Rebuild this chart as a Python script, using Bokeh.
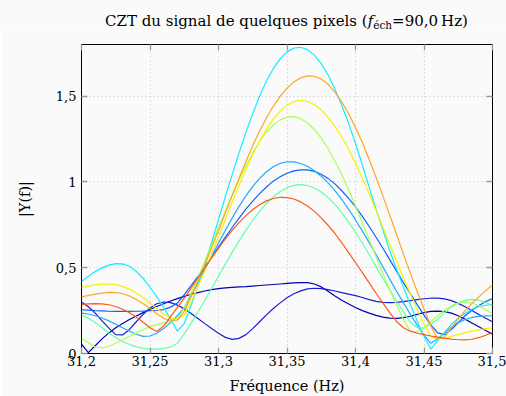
from bokeh.plotting import figure
from bokeh.models import FixedTicker, LinearAxis, Range1d, Div
from bokeh.layouts import column
from bokeh.embed import file_html
from bokeh.resources import INLINE

freq = [31.200, 31.205, 31.210, 31.215, 31.220, 31.225, 31.230, 31.235, 31.240, 31.245,
        31.250, 31.255, 31.260, 31.265, 31.270, 31.275, 31.280, 31.285, 31.290, 31.295,
        31.300, 31.305, 31.310, 31.315, 31.320, 31.325, 31.330, 31.335, 31.340, 31.345,
        31.350, 31.355, 31.360, 31.365, 31.370, 31.375, 31.380, 31.385, 31.390, 31.395,
        31.400, 31.405, 31.410, 31.415, 31.420, 31.425, 31.430, 31.435, 31.440, 31.445,
        31.450, 31.455, 31.460, 31.465, 31.470, 31.475, 31.480, 31.485, 31.490, 31.495,
        31.500]

cyan = [0.420, 0.450, 0.477, 0.499, 0.515, 0.524, 0.522, 0.508, 0.478, 0.437,
        0.386, 0.330, 0.268, 0.200, 0.130, 0.175, 0.280, 0.397, 0.519, 0.648,
        0.780, 0.913, 1.042, 1.169, 1.288, 1.398, 1.498, 1.587, 1.659, 1.716,
        1.757, 1.779, 1.784, 1.770, 1.738, 1.687, 1.622, 1.540, 1.445, 1.339,
        1.223, 1.098, 0.967, 0.840, 0.720, 0.600, 0.490, 0.385, 0.285, 0.190,
        0.100, 0.025, 0.075, 0.125, 0.170, 0.205, 0.235, 0.258, 0.273, 0.281,
        0.285]
orange = [0.330, 0.338, 0.346, 0.352, 0.356, 0.355, 0.348, 0.335, 0.315, 0.290,
          0.262, 0.232, 0.205, 0.188, 0.195, 0.246, 0.331, 0.421, 0.516, 0.616,
          0.716, 0.818, 0.921, 1.021, 1.118, 1.211, 1.296, 1.372, 1.440, 1.499,
          1.546, 1.582, 1.606, 1.617, 1.615, 1.599, 1.568, 1.523, 1.465, 1.397,
          1.317, 1.229, 1.130, 1.026, 0.917, 0.806, 0.693, 0.579, 0.468, 0.361,
          0.258, 0.161, 0.085, 0.095, 0.150, 0.200, 0.250, 0.292, 0.330, 0.366,
          0.400]
yellow = [0.385, 0.393, 0.400, 0.404, 0.405, 0.401, 0.391, 0.375, 0.352, 0.325,
          0.294, 0.262, 0.230, 0.205, 0.200, 0.225, 0.300, 0.389, 0.481, 0.580,
          0.680, 0.781, 0.881, 0.980, 1.072, 1.159, 1.236, 1.306, 1.365, 1.412,
          1.446, 1.468, 1.474, 1.468, 1.449, 1.418, 1.376, 1.323, 1.261, 1.188,
          1.107, 1.021, 0.929, 0.834, 0.736, 0.636, 0.537, 0.440, 0.348, 0.257,
          0.172, 0.100, 0.085, 0.088, 0.100, 0.110, 0.120, 0.130, 0.138, 0.145,
          0.150]
lgreen = [0.090, 0.062, 0.038, 0.032, 0.042, 0.060, 0.080, 0.100, 0.120, 0.138,
          0.155, 0.168, 0.178, 0.185, 0.200, 0.268, 0.354, 0.443, 0.538, 0.632,
          0.732, 0.828, 0.923, 1.012, 1.094, 1.169, 1.235, 1.289, 1.332, 1.361,
          1.378, 1.380, 1.368, 1.343, 1.305, 1.255, 1.193, 1.121, 1.041, 0.952,
          0.859, 0.762, 0.663, 0.564, 0.467, 0.372, 0.281, 0.197, 0.130, 0.125,
          0.150, 0.185, 0.220, 0.252, 0.278, 0.295, 0.300, 0.294, 0.278, 0.255,
          0.230]
azure = [0.235, 0.230, 0.220, 0.207, 0.190, 0.170, 0.150, 0.130, 0.112, 0.100,
         0.102, 0.118, 0.145, 0.180, 0.220, 0.266, 0.338, 0.414, 0.490, 0.567,
         0.644, 0.717, 0.789, 0.857, 0.918, 0.974, 1.020, 1.059, 1.088, 1.108,
         1.117, 1.116, 1.107, 1.091, 1.065, 1.033, 0.994, 0.949, 0.897, 0.840,
         0.778, 0.713, 0.645, 0.576, 0.505, 0.433, 0.363, 0.295, 0.229, 0.165,
         0.106, 0.060, 0.085, 0.120, 0.155, 0.180, 0.198, 0.210, 0.216, 0.219,
         0.220]
blue = [0.255, 0.253, 0.250, 0.248, 0.246, 0.245, 0.245, 0.245, 0.246, 0.247,
        0.250, 0.252, 0.256, 0.270, 0.294, 0.343, 0.395, 0.449, 0.505, 0.562,
        0.620, 0.678, 0.734, 0.789, 0.841, 0.888, 0.931, 0.970, 1.004, 1.030,
        1.050, 1.064, 1.070, 1.070, 1.061, 1.044, 1.020, 0.988, 0.948, 0.904,
        0.855, 0.799, 0.740, 0.677, 0.613, 0.547, 0.480, 0.413, 0.348, 0.285,
        0.224, 0.167, 0.120, 0.110, 0.140, 0.180, 0.220, 0.252, 0.280, 0.302,
        0.320]
aqua = [0.225, 0.205, 0.180, 0.150, 0.120, 0.093, 0.070, 0.052, 0.040, 0.030,
        0.026, 0.026, 0.030, 0.038, 0.060, 0.114, 0.177, 0.242, 0.309, 0.379,
        0.450, 0.521, 0.589, 0.655, 0.717, 0.776, 0.828, 0.874, 0.912, 0.944,
        0.966, 0.979, 0.984, 0.979, 0.964, 0.941, 0.908, 0.868, 0.819, 0.765,
        0.706, 0.642, 0.575, 0.506, 0.437, 0.370, 0.303, 0.242, 0.183, 0.150,
        0.150, 0.170, 0.200, 0.237, 0.270, 0.295, 0.310, 0.315, 0.310, 0.297,
        0.280]
red = [0.285, 0.289, 0.290, 0.289, 0.284, 0.274, 0.258, 0.238, 0.212, 0.182,
       0.150, 0.128, 0.160, 0.215, 0.269, 0.322, 0.381, 0.440, 0.498, 0.557,
       0.613, 0.667, 0.717, 0.762, 0.803, 0.839, 0.867, 0.889, 0.903, 0.910,
       0.908, 0.900, 0.883, 0.859, 0.828, 0.790, 0.747, 0.699, 0.645, 0.588,
       0.530, 0.471, 0.411, 0.351, 0.294, 0.238, 0.186, 0.150, 0.130, 0.118,
       0.110, 0.102, 0.095, 0.089, 0.084, 0.080, 0.079, 0.083, 0.092, 0.106,
       0.123]
navy_a = [0.055, 0.005, 0.045, 0.085, 0.120, 0.150, 0.175, 0.198, 0.218, 0.238,
          0.256, 0.274, 0.290, 0.306, 0.320, 0.333, 0.345, 0.355, 0.364, 0.372,
          0.378, 0.382, 0.385, 0.388, 0.390, 0.393, 0.396, 0.399, 0.402, 0.405,
          0.408, 0.411, 0.413, 0.413, 0.405, 0.388, 0.362, 0.335, 0.310, 0.288,
          0.268, 0.250, 0.235, 0.222, 0.212, 0.206, 0.205, 0.209, 0.217, 0.228,
          0.238, 0.245, 0.247, 0.244, 0.235, 0.220, 0.200, 0.178, 0.156, 0.134,
          0.113]
navy_b = [0.300, 0.272, 0.235, 0.190, 0.148, 0.110, 0.108, 0.140, 0.185, 0.228,
          0.265, 0.290, 0.300, 0.296, 0.282, 0.260, 0.233, 0.204, 0.174, 0.145,
          0.118, 0.094, 0.082, 0.088, 0.110, 0.145, 0.185, 0.225, 0.262, 0.295,
          0.325, 0.348, 0.365, 0.376, 0.380, 0.378, 0.372, 0.364, 0.355, 0.346,
          0.337, 0.326, 0.314, 0.304, 0.298, 0.296, 0.298, 0.302, 0.308, 0.314,
          0.319, 0.322, 0.323, 0.318, 0.308, 0.292, 0.272, 0.250, 0.227, 0.205,
          0.185]

series = [
    (navy_a, "#0000b4"), (navy_b, "#1c1cdc"), (blue, "#1060ff"), (azure, "#20aaff"),
    (cyan, "#10eeff"), (aqua, "#60ffa8"), (lgreen, "#aaff55"), (yellow, "#f8f000"),
    (orange, "#ffa520"), (red, "#ff5a14"),
]

x_ticks = [31.2, 31.25, 31.3, 31.35, 31.4, 31.45, 31.5]
x_tick_labels = ["31,2", "31,25", "31,3", "31,35", "31,4", "31,45", "31,5"]
y_ticks = [0, 0.5, 1, 1.5]
y_tick_labels = ["0", "0,5", "1", "1,5"]

FONT = "DejaVu Serif"
BG = "#fafafa"

title_html = (
    '<div style="position:relative;width:506px;height:30px;background:%s;">'
    '<span style="position:absolute;left:81px;width:411px;top:14px;text-align:center;'
    'white-space:nowrap;font-family:\'DejaVu Serif\';font-size:15px;line-height:15px;color:#000;">'
    'CZT du signal de quelques pixels (<i>f</i><span style="font-size:10.5px;position:relative;top:3px;">'
    'éch</span>=90,0&thinsp;Hz)</span></div>' % BG
)
title = Div(text=title_html, width=506, height=30, margin=0)

p = figure(width=506, height=366, frame_width=411, frame_height=309,
           output_backend="svg", toolbar_location=None,
           x_range=Range1d(31.2, 31.5), y_range=Range1d(0, 1.8),
           min_border_left=81, min_border_right=14, min_border_top=14, min_border_bottom=43,
           background_fill_color=BG, border_fill_color=BG, margin=0)
p.outline_line_color = "black"
p.outline_line_width = 1

for ys, col in series:
    p.line(freq, ys, line_color=col, line_width=1.2)

def style_axis(ax, ticks, labels, show):
    ax.ticker = FixedTicker(ticks=ticks)
    ax.major_label_overrides = {t: (l if show else "") for t, l in zip(ticks, labels)}
    ax.major_tick_in = 6
    ax.major_tick_out = 0
    ax.minor_tick_in = 0
    ax.minor_tick_out = 0
    ax.major_tick_line_color = "#9a9a9a"
    ax.major_tick_line_width = 1.3
    ax.axis_line_color = None
    ax.major_label_text_font = FONT
    ax.major_label_text_font_size = "13px"
    ax.major_label_text_color = "black"
    ax.axis_label_text_font = FONT
    ax.axis_label_text_font_size = "14.5px"
    ax.axis_label_text_font_style = "normal"
    ax.axis_label_text_color = "black"

style_axis(p.xaxis[0], x_ticks, x_tick_labels, True)
style_axis(p.yaxis[0], y_ticks, y_tick_labels, True)
p.xaxis[0].major_label_standoff = 2
p.yaxis[0].major_label_standoff = 5
p.xaxis[0].axis_label = "Fréquence (Hz)"
p.xaxis[0].axis_label_standoff = 9
p.yaxis[0].axis_label = "|Y(f)|"
p.yaxis[0].axis_label_standoff = 20

top = LinearAxis()
style_axis(top, x_ticks, x_tick_labels, False)
top.major_label_standoff = 0
p.add_layout(top, "above")
right = LinearAxis()
style_axis(right, y_ticks, y_tick_labels, False)
right.major_label_standoff = 0
p.add_layout(right, "right")

p.xgrid.ticker = FixedTicker(ticks=x_ticks)
p.ygrid.ticker = FixedTicker(ticks=y_ticks)
for g in (p.xgrid[0], p.ygrid[0]):
    g.grid_line_color = "#c4c4c4"
    g.grid_line_dash = "1 3"
    g.grid_line_width = 1

layout = column(title, p, spacing=0, margin=0)
open("out.html", "w").write(file_html(layout, INLINE))
